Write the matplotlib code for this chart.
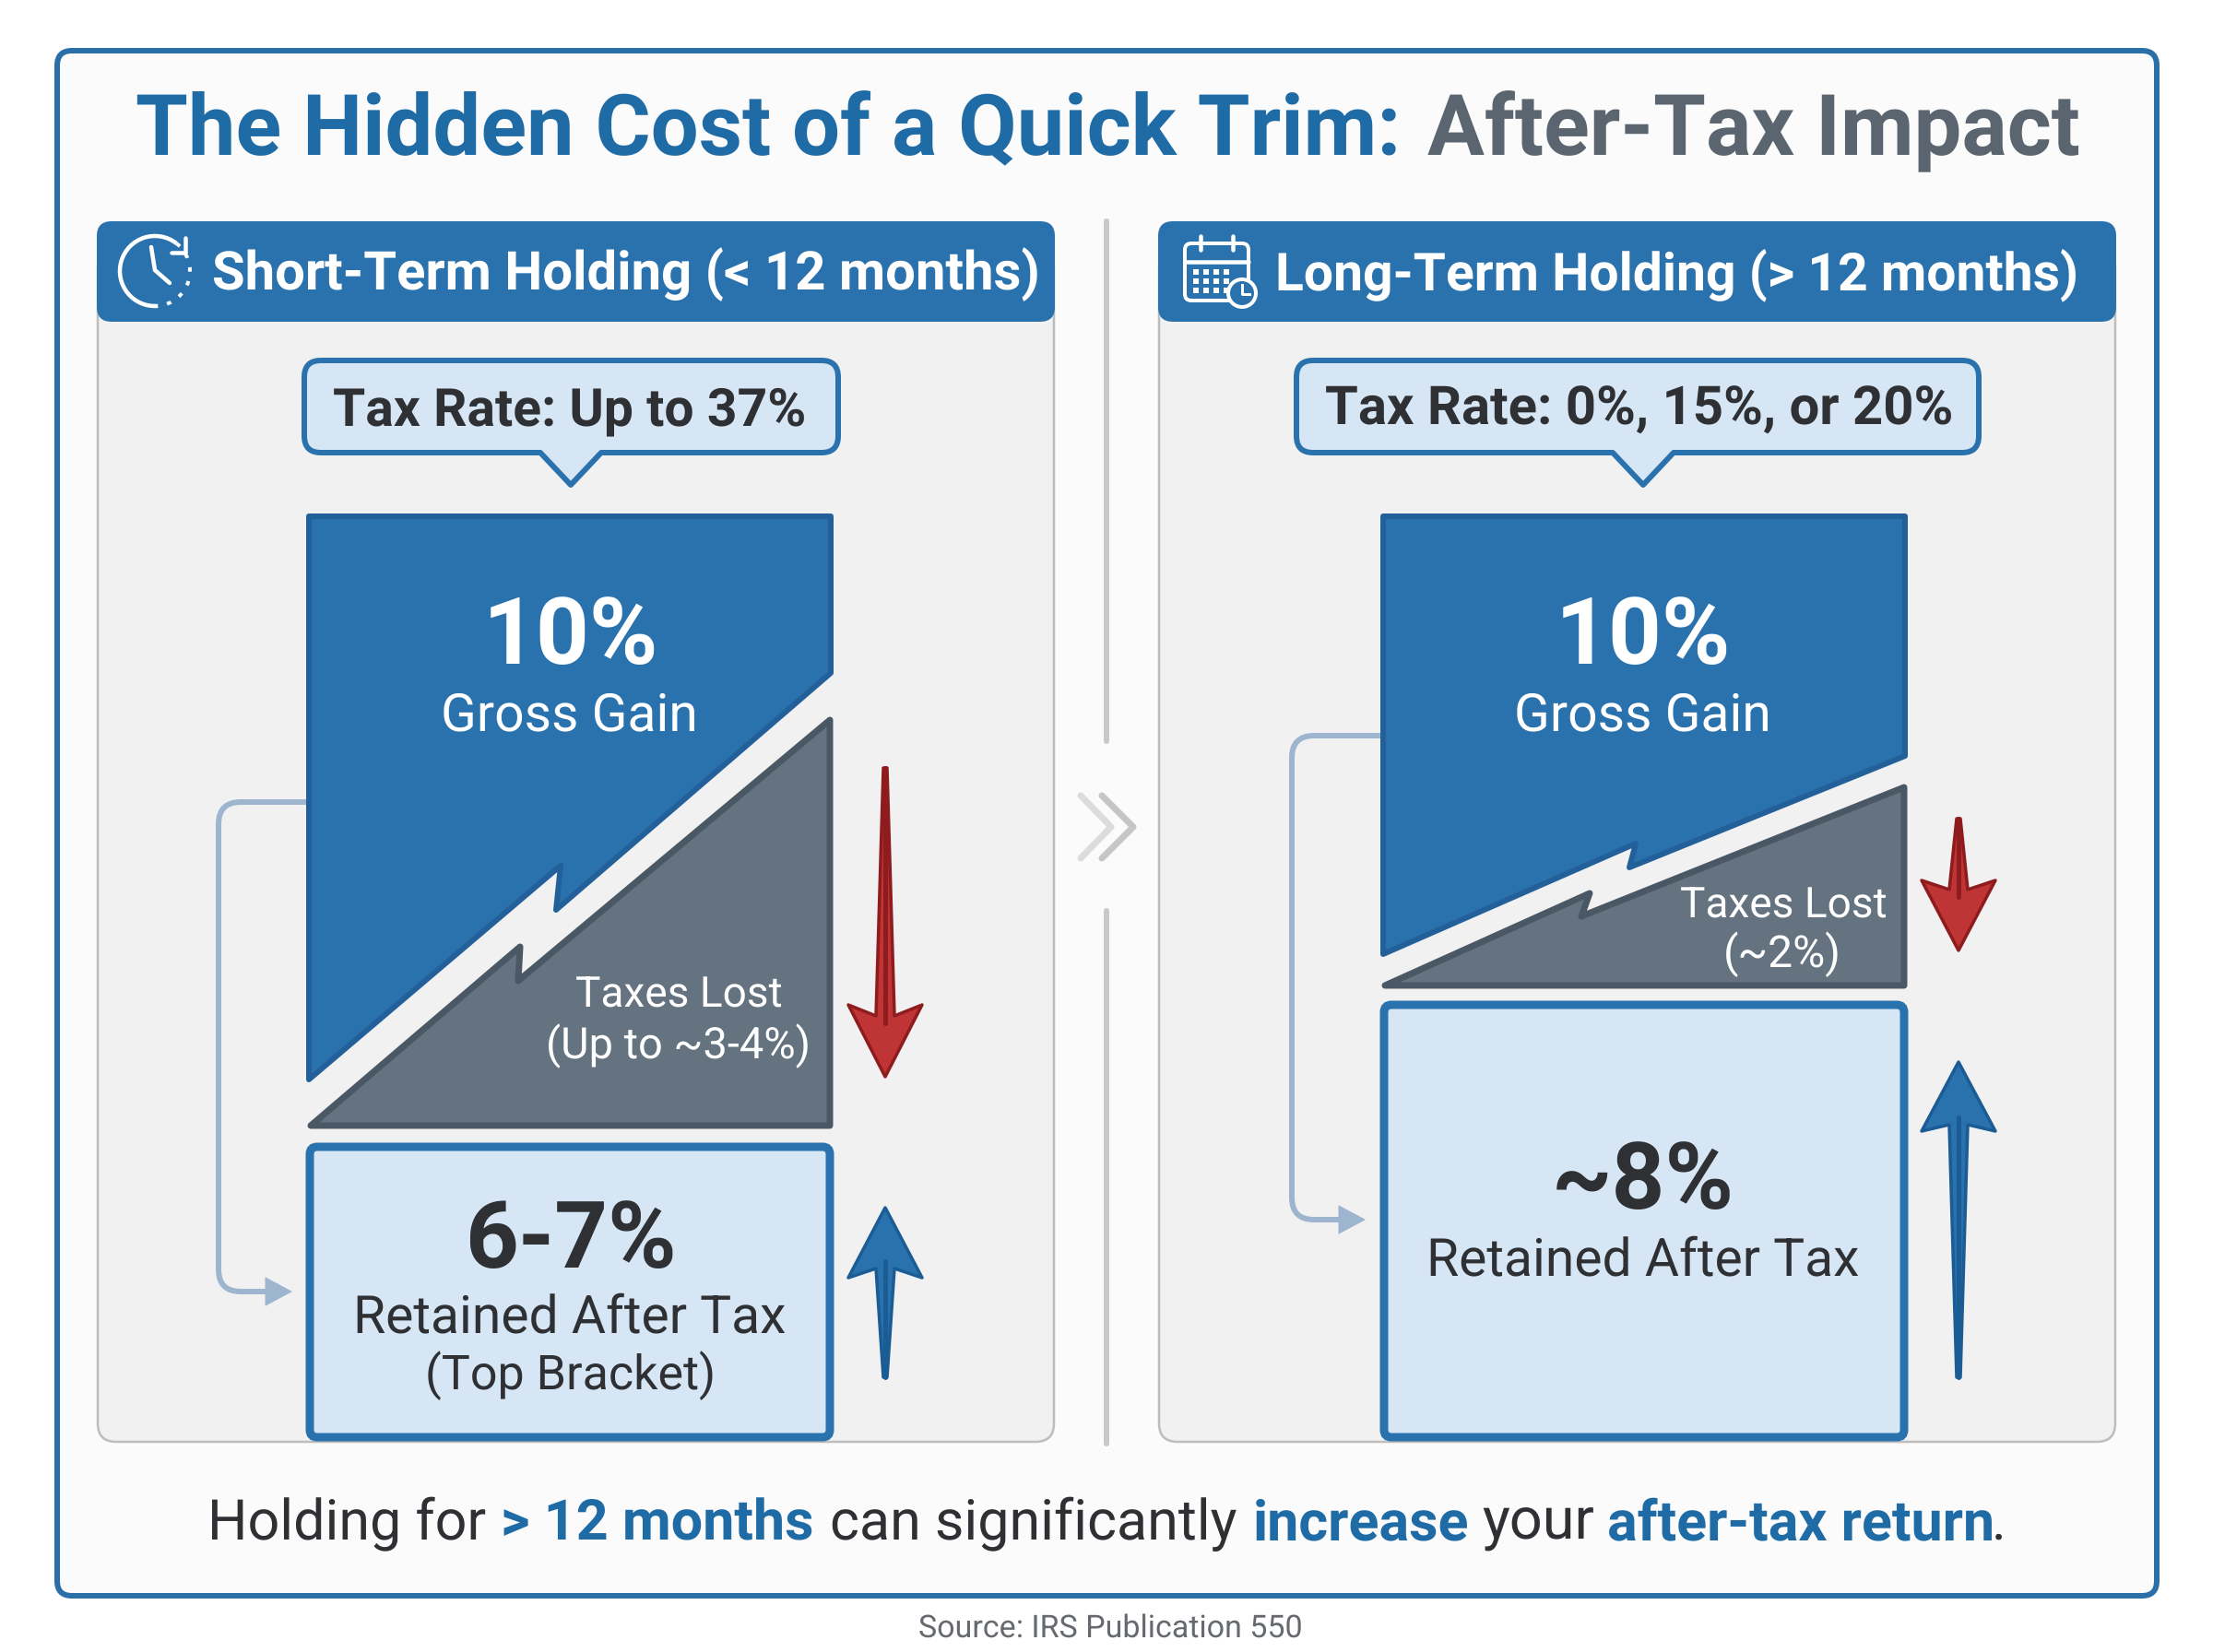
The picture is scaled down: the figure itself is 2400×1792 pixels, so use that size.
import matplotlib
matplotlib.use("Agg")
import matplotlib.pyplot as plt
from matplotlib.patches import FancyBboxPatch, Polygon, PathPatch, Circle, Arc, Rectangle
from matplotlib.path import Path
from matplotlib.font_manager import FontProperties

plt.rcParams["text.hinting"] = "no_hinting"
plt.rcParams["text.hinting_factor"] = 1

# ---------- content ----------
title_main = "The Hidden Cost of a Quick Trim:"
title_tail = "After-Tax Impact"
panel_titles = ["Short-Term Holding (< 12 months)", "Long-Term Holding (> 12 months)"]
tax_rates = ["Tax Rate: Up to 37%", "Tax Rate: 0%, 15%, or 20%"]
gross_values = ["10%", "10%"]
gross_label = "Gross Gain"
tax_lost_label = "Taxes Lost"
tax_lost_values = ["(Up to ~3-4%)", "(~2%)"]
retained_values = ["6-7%", "~8%"]
retained_label = "Retained After Tax"
retained_note = "(Top Bracket)"
footer_parts = ["Holding for", "> 12 months", "can significantly", "increase", "your", "after-tax return", "."]
source_text = "Source: IRS Publication 550"

# ---------- style ----------
BLUE = "#2a72ad"; BLUE_E = "#23609a"; TITLE_BLUE = "#1f6ba6"; TITLE_GREY = "#5a6570"
LIGHT = "#d6e6f5"; GREY = "#64737f"; GREY_E = "#4a5865"; RED = "#bf3434"; RED_E = "#8e1c1e"
DARK = "#2e3033"; PANEL = "#f1f1f1"; PANEL_E = "#bdbdbd"; LINK = "#9db5cf"; DIV = "#c9c9c9"
W, H, DPI = 2400, 1792, 100

fig = plt.figure(figsize=(W / DPI, H / DPI), dpi=DPI, facecolor="white")
ax = fig.add_axes([0, 0, 1, 1])
ax.set_xlim(0, W); ax.set_ylim(H, 0); ax.axis("off")
LW = 72 / DPI  # one pixel of line width
renderer = fig.canvas.get_renderer()


def fit(s, x0, x1, base, color, weight="normal", z=20):
    """Write s so that its rendered extent spans x0..x1 on the given baseline."""
    fp = FontProperties(family="Roboto", weight=weight)
    t = ax.text(x0, base, s, fontproperties=fp, fontsize=40, color=color,
                ha="left", va="baseline", zorder=z)
    for _ in range(2):
        w = t.get_window_extent(renderer).width
        t.set_fontsize(t.get_fontsize() * (x1 - x0) / w)


def rbox(x0, y0, x1, y1, r, fc, ec, lw, z=1):
    ax.add_patch(FancyBboxPatch((x0 + r, y0 + r), x1 - x0 - 2 * r, y1 - y0 - 2 * r,
                                boxstyle=f"round,pad={r},rounding_size={r}",
                                fc=fc, ec=ec, lw=lw * LW, zorder=z))


def poly(pts, fc, ec, lw, z=3):
    ax.add_patch(Polygon(pts, closed=True, fc=fc, ec=ec, lw=lw * LW, joinstyle="round", zorder=z))


def connector(x_start, y_start, x_bend, y_end, x_tip):
    r = 24
    verts = [(x_start, y_start), (x_bend + r, y_start), (x_bend, y_start), (x_bend, y_start + r),
             (x_bend, y_end - r), (x_bend, y_end), (x_bend + r, y_end), (x_tip - 26, y_end)]
    codes = [Path.MOVETO, Path.LINETO, Path.CURVE3, Path.CURVE3, Path.LINETO, Path.CURVE3, Path.CURVE3, Path.LINETO]
    ax.add_patch(PathPatch(Path(verts, codes), fc="none", ec=LINK, lw=6 * LW, zorder=2))
    poly([(x_tip, y_end), (x_tip - 28, y_end - 15), (x_tip - 28, y_end + 15)], LINK, LINK, 1, z=2)


def arrow(cx, tail, tip, y_corner, y_notch, fc, ec):
    hw = 40
    d = 1 if tip > tail else -1
    pts = [(cx - 2, tail), (cx + 2, tail), (cx + 10, y_notch), (cx + hw, y_corner), (cx, tip),
           (cx - hw, y_corner), (cx - 10, y_notch)]
    poly(pts, fc, ec, 3.5, z=4)
    ax.plot([cx, cx], [tail, y_notch + d * 8], color=ec, lw=5 * LW, solid_capstyle="round", zorder=5)


# ---------- frame, title ----------
rbox(62, 55, 2339, 1731, 16, "#fbfbfb", "#2a6fa8", 6, z=0)
fit(title_main, 147, 1518, 168, TITLE_BLUE, "bold")
fit(title_tail, 1548, 2254, 168, TITLE_GREY, "bold")

# ---------- panels ----------
panels = [
    dict(x=106, block=(332, 904), blue_r=732, blue_l=1175, bolt_b=((603, 990), (608, 935)),
         grey_r=777, bolt_g=((562, 1067), (564, 1024)), grey_l=1221, grey_b=1224, ret=(1240, 1563),
         link=(870, 237, 1401, 316), bubble=(330, 909, 619), head=(230, 1123), rate=(361, 878),
         ten=(524, 714), gross=(478, 756), lost=(624, 848, 1093), lostv=(592, 881, 1148),
         rv=(504, 732, 1375), rl=(383, 851, 1445),
         down=(960, 833, 1168, 1090, 1102), up=(960, 1494, 1310, 1386, 1376)),
    dict(x=1257, block=(1497, 2069), blue_r=822, blue_l=1039, bolt_b=((1767, 944), (1774, 911)),
         grey_r=850, bolt_g=((1715, 997), (1724, 966)), grey_l=1069, grey_b=1072, ret=(1086, 1563),
         link=(798, 1401, 1323, 1480), bubble=(1406, 2146, 1782), head=(1383, 2261), rate=(1437, 2114),
         ten=(1687, 1877), gross=(1642, 1921), lost=(1822, 2046, 996), lostv=(1869, 1997, 1049),
         rv=(1683, 1882, 1311), rl=(1547, 2014, 1383),
         down=(2124, 888, 1031, 955, 965), up=(2124, 1494, 1152, 1227, 1220)),
]
for i, p in enumerate(panels):
    x = p["x"]
    rbox(x, 270, x + 1037, 1564, 20, PANEL, PANEL_E, 2.5, z=1)
    rbox(x - 1, 240, x + 1038, 349, 16, BLUE, BLUE, 0, z=2)
    fit(panel_titles[i], p["head"][0], p["head"][1], 314, "white", "bold")

    # tax-rate bubble
    bx0, bx1, tipx = p["bubble"]
    r = 18
    verts = [(bx0 + r, 391), (bx1 - r, 391), (bx1, 391), (bx1, 391 + r), (bx1, 491 - r), (bx1, 491), (bx1 - r, 491),
             (tipx + 33, 491), (tipx, 526), (tipx - 33, 491), (bx0 + r, 491), (bx0, 491), (bx0, 491 - r),
             (bx0, 391 + r), (bx0, 391), (bx0 + r, 391)]
    codes = [Path.MOVETO, Path.LINETO, Path.CURVE3, Path.CURVE3, Path.LINETO, Path.CURVE3, Path.CURVE3,
             Path.LINETO, Path.LINETO, Path.LINETO, Path.LINETO, Path.CURVE3, Path.CURVE3,
             Path.LINETO, Path.CURVE3, Path.CURVE3]
    ax.add_patch(PathPatch(Path(verts, codes), fc=LIGHT, ec=BLUE, lw=6 * LW, joinstyle="round", zorder=3))
    fit(tax_rates[i], p["rate"][0], p["rate"][1], 461, DARK, "bold")

    # connector goes under the blocks
    ys, xb, ye, xt = p["link"]
    connector(p["block"][0], ys, xb, ye, xt)

    # gross gain wedge
    L, R = p["block"]
    (b1x, b1y), (b2x, b2y) = p["bolt_b"]
    poly([(L + 3, 560), (R - 3, 560), (R - 3, p["blue_r"] - 2), (b1x, b1y - 3), (b2x, b2y + 4),
          (L + 3, p["blue_l"] - 4)], BLUE, BLUE_E, 6)
    # taxes wedge
    (g1x, g1y), (g2x, g2y) = p["bolt_g"]
    poly([(R - 4, p["grey_r"] + 4), (R - 4, p["grey_b"] - 3), (L + 5, p["grey_b"] - 3),
          (g2x, g2y + 3), (g1x, g1y - 3)], GREY, GREY_E, 7)

    # retained box
    ry0, ry1 = p["ret"]
    rbox(L + 4, ry0 + 4, R - 4, ry1 - 4, 8, LIGHT, BLUE, 9, z=3)

    # labels
    fit(gross_values[i], p["ten"][0], p["ten"][1], 720, "white", "bold")
    fit(gross_label, p["gross"][0], p["gross"][1], 792, "white")
    fit(tax_lost_label, p["lost"][0], p["lost"][1], p["lost"][2], "white")
    fit(tax_lost_values[i], p["lostv"][0], p["lostv"][1], p["lostv"][2], "white")
    fit(retained_values[i], p["rv"][0], p["rv"][1], p["rv"][2], DARK, "bold")
    fit(retained_label, p["rl"][0], p["rl"][1], p["rl"][2], DARK)
    if i == 0:
        fit(retained_note, 461, 773, 1507, DARK)

    # arrows
    arrow(*p["down"], RED, RED_E)
    arrow(*p["up"], BLUE, "#1b5c95")

# ---------- divider and chevrons ----------
ax.plot([1200, 1200], [240, 804], color=DIV, lw=6 * LW, solid_capstyle="round", zorder=1)
ax.plot([1200, 1200], [988, 1566], color=DIV, lw=6 * LW, solid_capstyle="round", zorder=1)
ax.plot([1172, 1205, 1172], [863, 897, 931], color="#dcdcdc", lw=7 * LW, zorder=1, solid_capstyle="round")
ax.plot([1195, 1229, 1195], [863, 897, 931], color="#c6c6c6", lw=7 * LW, zorder=1, solid_capstyle="round")

# ---------- icons ----------
ic = dict(color="white", lw=4.5 * LW, zorder=6, solid_capstyle="round")
ax.add_patch(Arc((168, 294), 76, 76, theta1=85, theta2=308, ec="white", lw=4.5 * LW, zorder=6))
ax.add_patch(Arc((168, 294), 76, 76, theta1=-52, theta2=85, ec="white", lw=4 * LW, ls=(0, (1.2, 2.6)), zorder=6))
ax.plot([164, 168, 184], [268, 293, 307], **ic)
ax.plot([186, 201, 201], [274, 274, 258], **ic)

rbox(1285, 264, 1354, 326, 7, "none", "white", 4, z=6)
ax.plot([1285, 1354], [284, 284], **ic)
for rx in (1302, 1337):
    ax.plot([rx, rx], [256, 271], **ic)
for gy in (295, 305, 315):
    for gx in (1297, 1308, 1319, 1330):
        ax.add_patch(Rectangle((gx - 3, gy - 3), 6, 6, fc="white", ec="none", zorder=6))
ax.add_patch(Circle((1347, 318), 15, fc=BLUE, ec="white", lw=4 * LW, zorder=7))
ax.plot([1347, 1347, 1355], [309, 319, 319], color="white", lw=3 * LW, zorder=8)

# ---------- footer ----------
foot_pos = [(225, 526), (543, 883), (900, 1344), (1359, 1592), (1607, 1728), (1743, 2160), (2160, 2170)]
foot_col = [DARK, TITLE_BLUE, DARK, TITLE_BLUE, DARK, TITLE_BLUE, DARK]
for s, (a, b), c in zip(footer_parts, foot_pos, foot_col):
    if s == ".":
        ax.text(a, 1670, s, fontproperties=FontProperties(family="Roboto"), fontsize=43, color=c, va="baseline", zorder=20)
    else:
        fit(s, a, b, 1670, c, "bold" if c == TITLE_BLUE else "normal")
fit(source_text, 996, 1406, 1776, "#666a6e")

fig.savefig("out.png", dpi=DPI, facecolor="white")
